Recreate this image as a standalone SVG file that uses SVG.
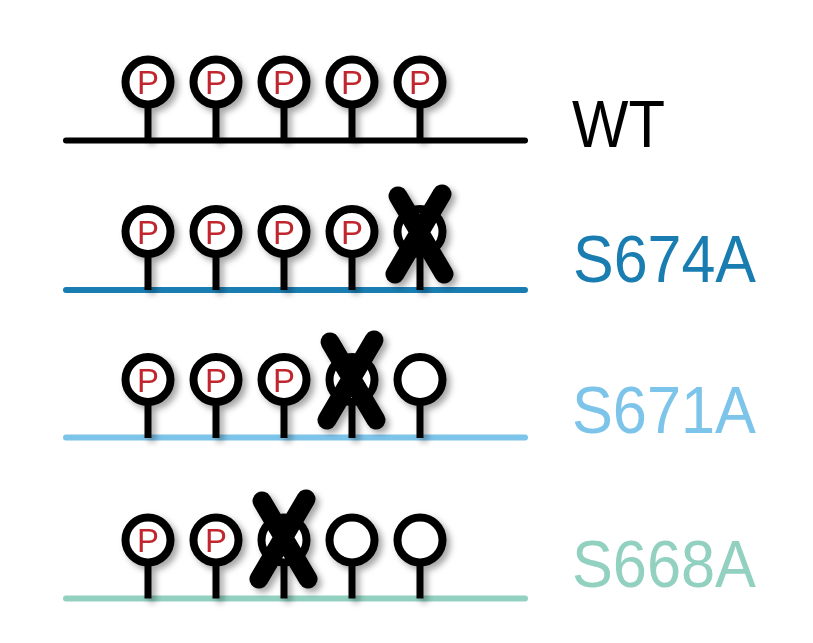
<svg xmlns="http://www.w3.org/2000/svg" width="813" height="643" viewBox="0 0 813 643">
<defs>
<filter id="sh" x="-40%" y="-40%" width="190%" height="190%">
<feDropShadow dx="4" dy="4" stdDeviation="3" flood-color="#000" flood-opacity="0.35"/>
</filter>
<g id="site">
<line x1="0" y1="20" x2="0" y2="58.5" stroke="#000" stroke-width="7"/>
<circle cx="0" cy="0" r="22.5" fill="#fff" stroke="#000" stroke-width="8"/>
</g>
<g id="psite">
<use href="#site"/>
<text x="0" y="12" font-family="Liberation Sans, Arial, sans-serif" font-size="33" fill="#c1272d" text-anchor="middle">P</text>
</g>
<path id="x" d="M-22,-38 L24,40 M22,-40 L-25,40" fill="none" stroke="#000" stroke-width="19" stroke-linecap="round"/>
</defs>
<style>
.bb{stroke-width:6;stroke-linecap:round}
.lbl{font-family:"Liberation Sans",Arial,sans-serif;font-size:67px}
.sites{filter:url(#sh)}
</style>
<rect width="813" height="643" fill="#fff"/>
<g id="connectors">
<line x1="66" y1="140.5" x2="525" y2="140.5" class="bb" stroke="#000"/>
<line x1="66" y1="290" x2="525" y2="290" class="bb" stroke="#1a7db1"/>
<line x1="66" y1="437.5" x2="525" y2="437.5" class="bb" stroke="#7dc4ea"/>
<line x1="66" y1="598.5" x2="525" y2="598.5" class="bb" stroke="#92d0bf"/>
</g>
<g id="row-wt" class="sites">
<use href="#psite" x="148" y="82"/>
<use href="#psite" x="216" y="82"/>
<use href="#psite" x="284" y="82"/>
<use href="#psite" x="352" y="82"/>
<use href="#psite" x="420" y="82"/>
</g>
<g id="row-s674a" class="sites">
<use href="#psite" x="148" y="231.5"/>
<use href="#psite" x="216" y="231.5"/>
<use href="#psite" x="284" y="231.5"/>
<use href="#psite" x="352" y="231.5"/>
<use href="#site" x="420" y="231.5"/>
<use href="#x" x="420" y="234"/>
</g>
<g id="row-s671a" class="sites">
<use href="#psite" x="148" y="379.5"/>
<use href="#psite" x="216" y="379.5"/>
<use href="#psite" x="284" y="379.5"/>
<use href="#site" x="352" y="379.5"/>
<use href="#x" x="352" y="380"/>
<use href="#site" x="420" y="379.5"/>
</g>
<g id="row-s668a" class="sites">
<use href="#psite" x="148" y="540"/>
<use href="#psite" x="216" y="540"/>
<use href="#site" x="284" y="540"/>
<use href="#x" x="284" y="539"/>
<use href="#site" x="352" y="540"/>
<use href="#site" x="420" y="540"/>
</g>
<g id="labels">
<text id="lbl-wt" x="572" y="147" class="lbl" fill="#000" textLength="93" lengthAdjust="spacingAndGlyphs">WT</text>
<text id="lbl-s674a" x="573" y="282" class="lbl" fill="#1a7db1" textLength="183" lengthAdjust="spacingAndGlyphs">S674A</text>
<text id="lbl-s671a" x="572" y="433" class="lbl" fill="#7dc4ea" textLength="184" lengthAdjust="spacingAndGlyphs">S671A</text>
<text id="lbl-s668a" x="572" y="587" class="lbl" fill="#92d0bf" textLength="184" lengthAdjust="spacingAndGlyphs">S668A</text>
</g>
</svg>
